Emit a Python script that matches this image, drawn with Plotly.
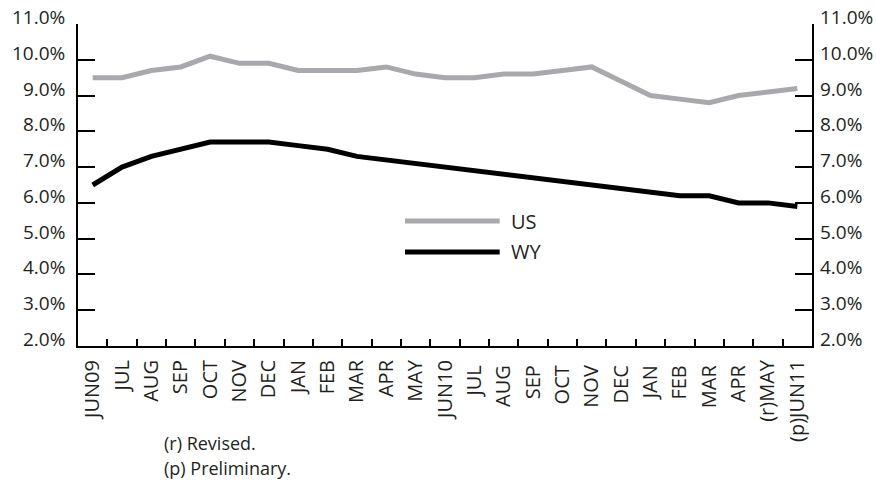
import plotly.graph_objects as go

months = ["JUN09", "JUL", "AUG", "SEP", "OCT", "NOV", "DEC", "JAN", "FEB", "MAR",
          "APR", "MAY", "JUN10", "JUL ", "AUG ", "SEP ", "OCT ", "NOV ", "DEC ",
          "JAN ", "FEB ", "MAR ", "APR ", "(r)MAY", "(p)JUN11"]
us_rate = [9.5, 9.5, 9.7, 9.8, 10.1, 9.9, 9.9, 9.7, 9.7, 9.7, 9.8, 9.6, 9.5,
           9.5, 9.6, 9.6, 9.7, 9.8, 9.4, 9.0, 8.9, 8.8, 9.0, 9.1, 9.2]
wy_rate = [6.5, 7.0, 7.3, 7.5, 7.7, 7.7, 7.7, 7.6, 7.5, 7.3, 7.2, 7.1, 7.0,
           6.9, 6.8, 6.7, 6.6, 6.5, 6.4, 6.3, 6.2, 6.2, 6.0, 6.0, 5.9]
y_ticks = [2, 3, 4, 5, 6, 7, 8, 9, 10, 11]
y_tick_labels = ["2.0%", "3.0%", "4.0%", "5.0%", "6.0%", "7.0%", "8.0%", "9.0%", "10.0%", "11.0%"]
footnotes = ["(r) Revised.", "(p) Preliminary."]

GRAY = "#a7a9ac"
INK = "#231f20"
FONT = "Open Sans, Noto Sans, sans-serif"
FS = 20

fig = go.Figure()
fig.add_trace(go.Scatter(x=months, y=us_rate, mode="lines", name="US",
                         line=dict(color=GRAY, width=5), showlegend=False))
fig.add_trace(go.Scatter(x=months, y=wy_rate, mode="lines", name="WY",
                         line=dict(color="#000000", width=5), showlegend=False))
# invisible trace so the right axis is anchored
fig.add_trace(go.Scatter(x=months, y=wy_rate, yaxis="y2", mode="lines",
                         line=dict(width=0), opacity=0, showlegend=False, hoverinfo="skip"))

axis_common = dict(
    range=[2, 11], tickvals=y_ticks, showticklabels=False,
    showgrid=False, zeroline=False, showline=True, linecolor="#000000", linewidth=2,
    ticks="inside", ticklen=17, tickwidth=2, tickcolor="#000000",
)
fig.update_layout(
    width=876, height=484,
    margin=dict(l=78, r=64, t=24, b=138),
    paper_bgcolor="white", plot_bgcolor="white",
    xaxis=dict(
        type="category", categoryorder="array", categoryarray=months,
        range=[-0.5, len(months) - 0.5],
        tickson="boundaries", ticks="inside", ticklen=7, tickwidth=1.5, tickcolor="#000000",
        showline=True, linecolor="#000000", linewidth=2, showgrid=False, zeroline=False,
        tickangle=-90, tickfont=dict(family=FONT, size=FS, color=INK),
        ticklabelstandoff=4,
    ),
    yaxis=dict(**axis_common, side="left"),
    yaxis2=dict(**axis_common, side="right", overlaying="y", anchor="x"),
    showlegend=False,
)

# y tick labels on both sides (sit slightly above their ticks as in the reference)
for v, lab in zip(y_ticks, y_tick_labels):
    fig.add_annotation(text=lab, xref="paper", yref="y", x=0, y=v, xanchor="right",
                       yanchor="middle", xshift=-11, yshift=7, showarrow=False,
                       font=dict(family=FONT, size=19, color=INK))
    fig.add_annotation(text=lab, xref="paper", yref="y", x=1, y=v, xanchor="left",
                       yanchor="middle", xshift=6, yshift=7, showarrow=False,
                       font=dict(family=FONT, size=19, color=INK))

# custom legend (long line samples)
legend_items = [("US", GRAY, 0.388), ("WY", "#000000", 0.292)]
for name, color, yp in legend_items:
    fig.add_shape(type="line", xref="paper", yref="paper", x0=0.4455, x1=0.5745, y0=yp, y1=yp,
                  line=dict(color=color, width=5))
    fig.add_annotation(text=name, xref="paper", yref="paper", x=0.587, y=yp,
                       xanchor="left", yanchor="middle", showarrow=False,
                       font=dict(family=FONT, size=FS, color=INK))

for i, note in enumerate(footnotes):
    fig.add_annotation(text=note, xref="paper", yref="paper", x=(163 - 78) / 734,
                       y=(346 - (443 + 25 * i)) / 322, xanchor="left", yanchor="middle",
                       showarrow=False, borderpad=0, font=dict(family=FONT, size=18, color=INK))

fig.write_html("out.html", config={"displayModeBar": False},
               post_script="document.body.style.margin='0px';")
